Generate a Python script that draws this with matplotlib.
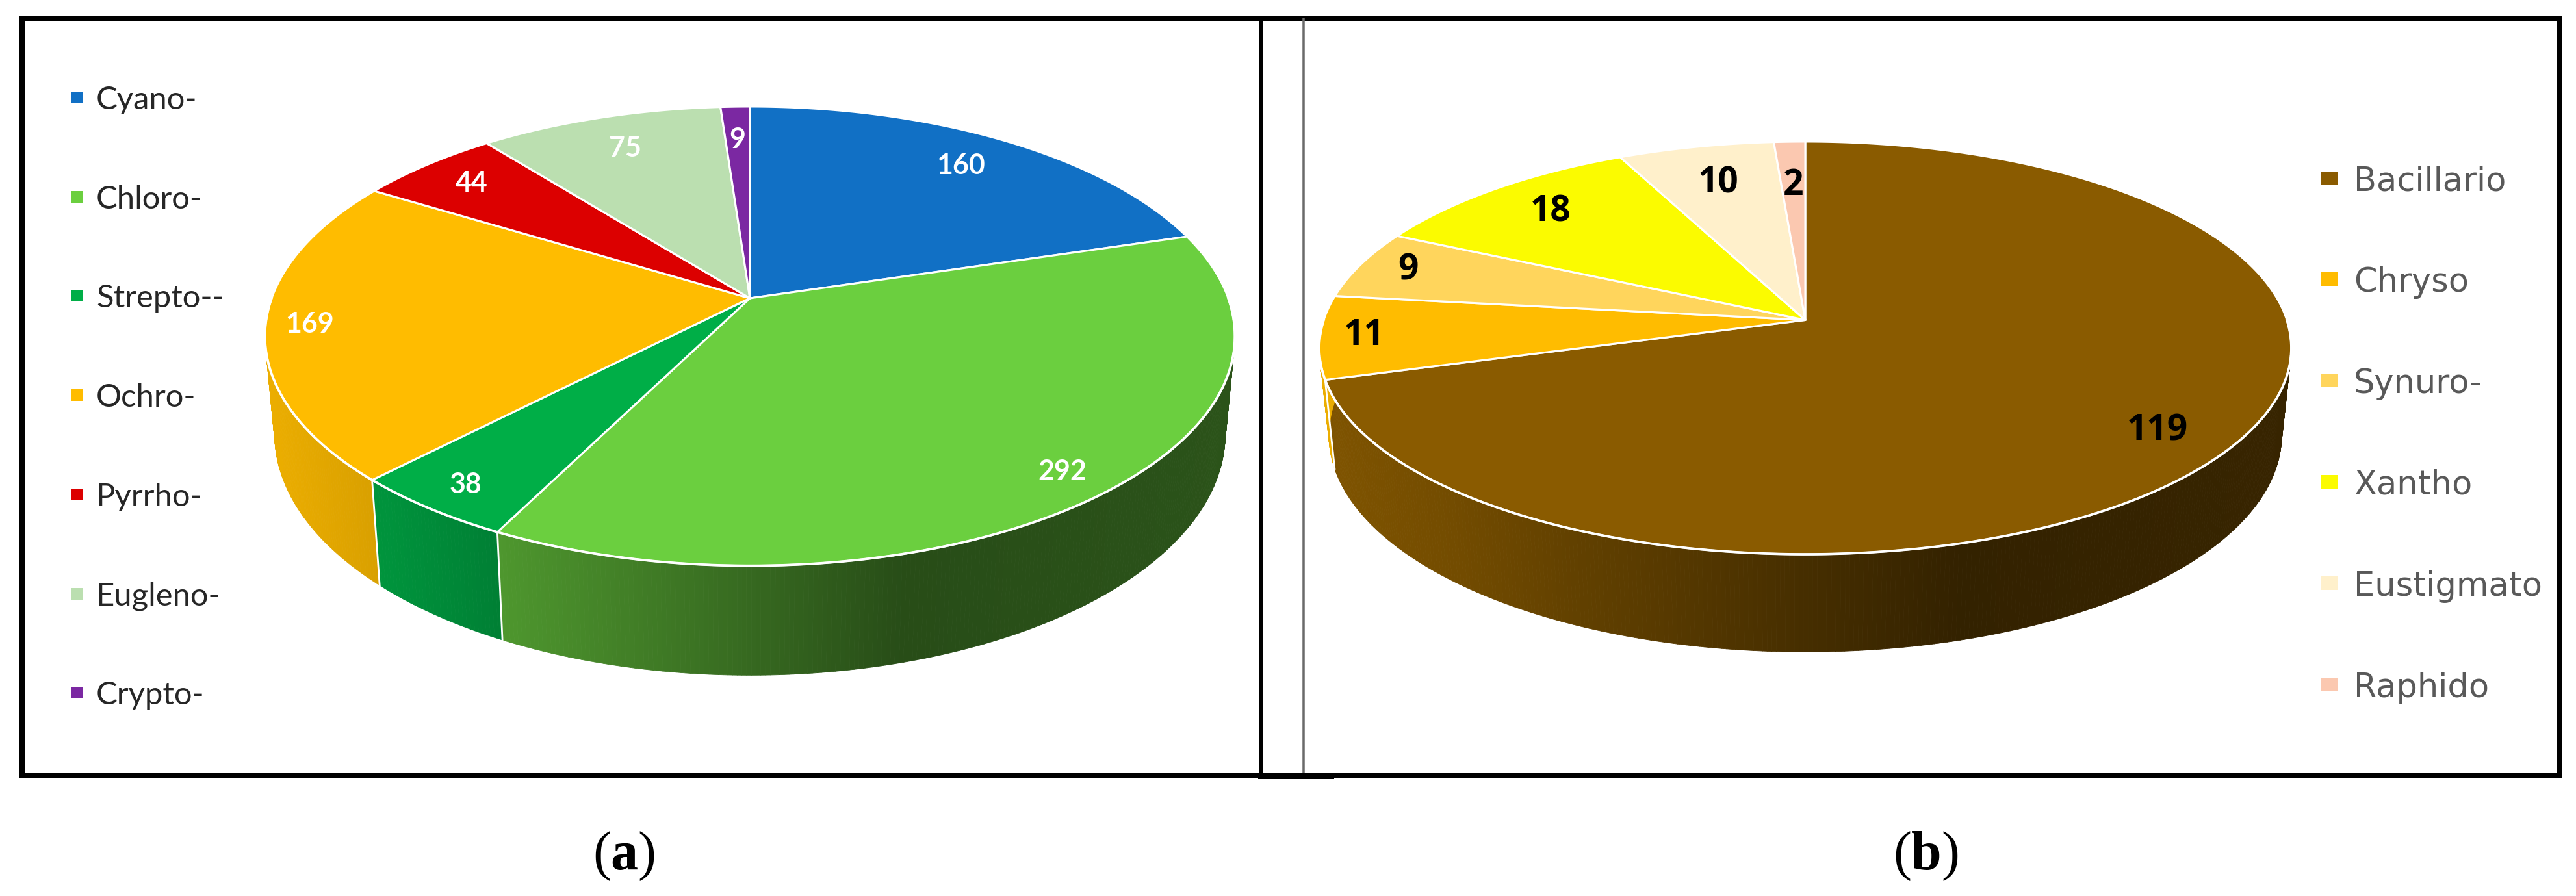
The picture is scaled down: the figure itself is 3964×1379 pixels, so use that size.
import numpy as np
import matplotlib
matplotlib.use("Agg")
import matplotlib.pyplot as plt
from matplotlib.collections import PolyCollection
from matplotlib.colors import to_rgb
from matplotlib.patches import Rectangle

plt.rcParams["mathtext.fontset"] = "custom"
plt.rcParams["mathtext.bf"] = "Liberation Serif:bold"

# panel a
names_a = ["Cyano-", "Chloro-", "Strepto--", "Ochro-", "Pyrrho-", "Eugleno-", "Crypto-"]
values_a = [160, 292, 38, 169, 44, 75, 9]
colors_a = ["#1170c5", "#6bcf3f", "#00ae47", "#ffbc00", "#dc0000", "#bbdfb0", "#7b28a2"]

# panel b
names_b = ["Bacillario", "Chryso", "Synuro-", "Xantho", "Eustigmato", "Raphido"]
values_b = [119, 11, 9, 18, 10, 2]
colors_b = ["#8a5b00", "#ffbc00", "#ffd55c", "#fbfb00", "#fff0cb", "#fbc8b0"]

# how far out each number sits on the disc
label_r_a = [0.82, 0.90, 0.90, 0.91, 0.85, 0.81, 0.805]
label_r_b = [0.85, 0.91, 0.89, 0.81, 0.77, 0.73]

SHADE_T = [-1, -0.75, -0.5, 0.33, 1]
SHADE_F = [0.92, 0.84, 0.72, 0.37, 0.40]


class Disc:
    # perspective view of a flat disc, angles clockwise from the top
    def __init__(self, cx, cy, a, b, k, ring_y, depth):
        self.cx, self.cy, self.a, self.b, self.k = cx, cy, a, b, k
        self.ring_y = ring_y
        self.depth = depth

    def top(self, theta, r=1.0):
        u = r * np.sin(theta)
        v = r * np.cos(theta)
        w = 1 + self.k * v
        return self.cx + self.a * u / w, self.cy - self.b * v / w

    def bottom(self, theta):
        x, y = self.top(theta)
        return self.cx + (x - self.cx) * 0.98, self.ring_y + self.depth + (y - self.ring_y) * 1.05


def draw_pie(ax, disc, values, colors, label_r, text_kw):
    values = np.array(values, dtype=float)
    edges = np.concatenate([[0], np.cumsum(values)]) / values.sum() * 2 * np.pi
    half = disc.a

    # side wall first, the top face hides the back part
    for i in range(len(values)):
        th = np.linspace(edges[i], edges[i + 1], max(int((edges[i + 1] - edges[i]) * 120), 3))
        xt, yt = disc.top(th)
        xb, yb = disc.bottom(th)
        polys = []
        cols = []
        rgb = np.array(to_rgb(colors[i]))
        for j in range(len(th) - 1):
            polys.append([(xt[j], yt[j]), (xt[j + 1], yt[j + 1]), (xb[j + 1], yb[j + 1]), (xb[j], yb[j])])
            f = np.interp((xt[j] - disc.cx) / half, SHADE_T, SHADE_F)
            cols.append(rgb * f)
        ax.add_collection(PolyCollection(polys, facecolors=cols, edgecolors=cols, linewidths=0.6, zorder=2))

    # white seams on the wall
    for e in edges[:-1]:
        if np.cos(e) < -0.05:
            xt, yt = disc.top(e)
            xb, yb = disc.bottom(e)
            ax.plot([xt, xb], [yt, yb], color="white", lw=2.0, zorder=3)

    # top face
    for i in range(len(values)):
        th = np.linspace(edges[i], edges[i + 1], max(int((edges[i + 1] - edges[i]) * 200), 3))
        x, y = disc.top(th)
        ax.fill(np.r_[disc.cx, x], np.r_[disc.cy, y], facecolor=colors[i], edgecolor="white",
                linewidth=2.2, joinstyle="round", zorder=4)

    # white rim along the front
    th = np.linspace(np.pi / 2, 3 * np.pi / 2, 300)
    x, y = disc.top(th)
    ax.plot(x, y, color="white", lw=2.6, zorder=5)

    # numbers
    for i in range(len(values)):
        mid = (edges[i] + edges[i + 1]) / 2
        x, y = disc.top(mid, label_r[i])
        ax.text(x, y, "%d" % values[i], ha="center", va="center", zorder=6, **text_kw)


def draw_legend(ax, names, colors, x_box, w_box, h_box, x_text, y0, step, text_kw):
    for i in range(len(names)):
        y = y0 + i * step
        ax.add_patch(Rectangle((x_box, y - h_box / 2), w_box, h_box, facecolor=colors[i], edgecolor="none"))
        ax.text(x_text, y, names[i], ha="left", va="center_baseline", **text_kw)


def px(size):
    return size * 72.0 / 100


fig = plt.figure(figsize=(39.64, 13.79), dpi=100)
ax = fig.add_axes([0, 0, 1, 1])
ax.set_xlim(0, 3964)
ax.set_ylim(1379, 0)
ax.axis("off")

# frames
ax.add_patch(Rectangle((34, 29), 3905, 1164, fill=False, edgecolor="black", lw=px(8), zorder=1))
ax.plot([1940, 1940], [29, 1193], color="black", lw=px(5), zorder=1)
ax.plot([2006, 2006], [29, 1193], color="#6a6a6a", lw=px(3.5), zorder=1)
ax.plot([1940, 2048], [1194, 1194], color="black", lw=px(9), zorder=1)

disc_a = Disc(1154, 459, 736, 343.7, 0.165, 517, 151)
disc_b = Disc(2778, 492.5, 741, 311.7, 0.1354, 535.5, 134.5)

draw_pie(ax, disc_a, values_a, colors_a, label_r_a,
         dict(color="white", fontsize=px(43), fontweight="bold", family="Lato"))
draw_pie(ax, disc_b, values_b, colors_b, label_r_b,
         dict(color="black", fontsize=px(55), fontweight="bold", family="Open Sans"))

draw_legend(ax, names_a, colors_a, 110, 18, 18, 148, 150, 152.7,
            dict(color="#262626", fontsize=px(49), family="Lato"))
draw_legend(ax, names_b, colors_b, 3572, 26, 21, 3622, 274, 155.8,
            dict(color="#595959", fontsize=px(51), family="DejaVu Sans"))

cap_kw = dict(ha="center", va="baseline", fontsize=px(84), family="Liberation Serif", color="black")
ax.text(960, 1338, r"($\mathbf{a}$)", **cap_kw)
ax.text(2963, 1338, r"($\mathbf{b}$)", **cap_kw)

fig.savefig("out.png", dpi=100, facecolor="white")
